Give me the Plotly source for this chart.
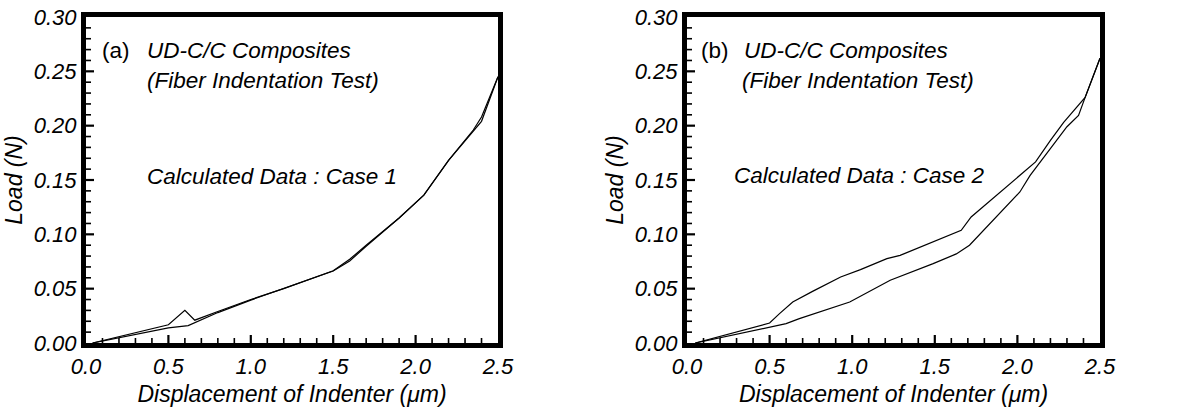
import plotly.graph_objects as go

# Panel (a) - Case 1
a_load_x = [0.04, 0.5, 0.6, 0.66, 0.8, 1.0, 1.2, 1.5, 1.6, 1.7, 1.9, 2.05, 2.2, 2.35, 2.4, 2.5]
a_load_y = [0.0, 0.0168, 0.0300, 0.0210, 0.0290, 0.0400, 0.0500, 0.0665, 0.0770, 0.0900, 0.1150, 0.1360, 0.1680, 0.1960, 0.2080, 0.2450]
a_unl_x = [0.04, 0.5, 0.62, 0.7, 0.8, 1.0, 1.2, 1.5, 1.6, 1.7, 1.9, 2.05, 2.2, 2.35, 2.4, 2.5]
a_unl_y = [0.0, 0.0140, 0.0160, 0.0215, 0.0280, 0.0395, 0.0500, 0.0662, 0.0755, 0.0890, 0.1150, 0.1360, 0.1680, 0.1950, 0.2040, 0.2450]

# Panel (b) - Case 2
b_load_x = [0.05, 0.5, 0.56, 0.64, 0.76, 0.93, 1.05, 1.21, 1.29, 1.51, 1.66, 1.72, 2.11, 2.2, 2.28, 2.41, 2.5]
b_load_y = [0.0, 0.0184, 0.027, 0.0377, 0.0475, 0.0607, 0.0675, 0.0776, 0.0807, 0.0945, 0.1037, 0.1160, 0.1666, 0.1865, 0.2030, 0.2260, 0.2620]
b_unl_x = [0.05, 0.5, 0.6, 0.68, 0.985, 1.23, 1.49, 1.63, 1.71, 2.015, 2.076, 2.3, 2.37, 2.41, 2.5]
b_unl_y = [0.0, 0.0147, 0.0178, 0.0224, 0.0377, 0.0577, 0.073, 0.082, 0.090, 0.139, 0.154, 0.1990, 0.2095, 0.2260, 0.2620]

# Axis scales and tick positions
x_range = [0, 2.5]
y_range = [0, 0.30]
x_major_ticks = [0.5, 1.0, 1.5, 2.0]
x_minor_ticks = [0.1, 0.2, 0.3, 0.4, 0.6, 0.7, 0.8, 0.9, 1.1, 1.2, 1.3, 1.4,
                 1.6, 1.7, 1.8, 1.9, 2.1, 2.2, 2.3, 2.4]
y_major_ticks = [0.05, 0.10, 0.15, 0.20, 0.25]
y_minor_ticks = [0.01, 0.02, 0.03, 0.04, 0.06, 0.07, 0.08, 0.09, 0.11, 0.12, 0.13, 0.14,
                 0.16, 0.17, 0.18, 0.19, 0.21, 0.22, 0.23, 0.24, 0.26, 0.27, 0.28, 0.29]

FONT = "Arial, 'Liberation Sans', sans-serif"
W, H = 1200, 407
PLOT_LEFT_A, PLOT_RIGHT_A = 86, 498
PLOT_LEFT_B, PLOT_RIGHT_B = 687, 1100
PLOT_TOP, PLOT_BOTTOM = 17, 343
MAJOR_LEN, MINOR_LEN = 8, 5   # tick lengths in px, pointing inward

fig = go.Figure()
line = dict(color="black", width=1.2)
for xs, ys, xa, ya in [(a_load_x, a_load_y, "x", "y"), (a_unl_x, a_unl_y, "x", "y"),
                       (b_load_x, b_load_y, "x2", "y2"), (b_unl_x, b_unl_y, "x2", "y2")]:
    fig.add_trace(go.Scatter(x=xs, y=ys, mode="lines", line=line, xaxis=xa, yaxis=ya,
                             showlegend=False, hoverinfo="skip"))

# inside tick marks drawn as short segments from the axis edge inward
x_units_per_px = (x_range[1] - x_range[0]) / (PLOT_RIGHT_A - PLOT_LEFT_A)
y_units_per_px = (y_range[1] - y_range[0]) / (PLOT_BOTTOM - PLOT_TOP)

def x_tick_segments(vals, ln):
    xs, ys = [], []
    for v in vals:
        xs += [v, v, None]
        ys += [y_range[0], y_range[0] + ln * y_units_per_px, None]
    return xs, ys

def y_tick_segments(vals, ln):
    xs, ys = [], []
    for v in vals:
        xs += [x_range[0], x_range[0] + ln * x_units_per_px, None]
        ys += [v, v, None]
    return xs, ys

for xa, ya in [("x", "y"), ("x2", "y2")]:
    for segs, wd in [(x_tick_segments(x_major_ticks, MAJOR_LEN), 2.2),
                     (x_tick_segments(x_minor_ticks, MINOR_LEN), 1.6),
                     (y_tick_segments(y_major_ticks, MAJOR_LEN), 2.2),
                     (y_tick_segments(y_minor_ticks, MINOR_LEN), 1.6)]:
        fig.add_trace(go.Scatter(x=segs[0], y=segs[1], mode="lines", xaxis=xa, yaxis=ya,
                                 line=dict(color="black", width=wd), connectgaps=False,
                                 cliponaxis=False, showlegend=False, hoverinfo="skip"))

ydom = [1 - PLOT_BOTTOM / H, 1 - PLOT_TOP / H]
tickfont = dict(family=FONT, size=22, color="black", style="italic")
titlefont = dict(family=FONT, size=23, color="black", style="italic")

def xax(domain, anchor):
    return dict(
        domain=domain, anchor=anchor, range=x_range,
        tickmode="linear", tick0=0, dtick=0.5, tickformat=".1f",
        ticks="",
        showline=True, linewidth=5, linecolor="black", mirror=True, layer="above traces",
        showgrid=False, zeroline=False, fixedrange=True,
        tickfont=tickfont,
        title=dict(text="Displacement of Indenter (μm)", font=titlefont, standoff=10),
    )

def yax(anchor):
    return dict(
        domain=ydom, anchor=anchor, range=y_range,
        tickmode="linear", tick0=0, dtick=0.05, tickformat=".2f",
        ticks="",
        showline=True, linewidth=5, linecolor="black", mirror=True, layer="above traces",
        showgrid=False, zeroline=False, fixedrange=True,
        tickfont=tickfont,
        title=dict(text="Load (N)", font=titlefont, standoff=6),
    )

fig.update_layout(
    width=W, height=H,
    margin=dict(l=0, r=0, t=0, b=0, autoexpand=False),
    paper_bgcolor="white", plot_bgcolor="white",
    xaxis=xax([PLOT_LEFT_A / W, PLOT_RIGHT_A / W], "y"),
    yaxis=yax("x"),
    xaxis2=xax([PLOT_LEFT_B / W, PLOT_RIGHT_B / W], "y2"),
    yaxis2=yax("x2"),
    font=dict(family=FONT, color="black"),
)

def ann(text, x, y, xref, yref, italic=True, size=22.5):
    fig.add_annotation(text=text, x=x, y=y, xref=xref, yref=yref, showarrow=False,
                       xanchor="left", yanchor="middle",
                       font=dict(family=FONT, size=size, color="black", style="italic" if italic else "normal"))

# Panel (a) texts
ann("(a)", 0.085, 0.2696, "x", "y", italic=False)
ann("UD-C/C Composites", 0.36, 0.2696, "x", "y")
ann("(Fiber Indentation Test)", 0.36, 0.2412, "x", "y")
ann("Calculated Data : Case 1", 0.36, 0.1528, "x", "y")

# Panel (b) texts
ann("(b)", 0.075, 0.2696, "x2", "y2", italic=False)
ann("UD-C/C Composites", 0.33, 0.2696, "x2", "y2")
ann("(Fiber Indentation Test)", 0.32, 0.2412, "x2", "y2")
ann("Calculated Data : Case 2", 0.27, 0.1540, "x2", "y2")

fig.write_html("out.html", config={"displayModeBar": False},
               post_script="document.body.style.margin='0';document.body.style.overflow='hidden';")
